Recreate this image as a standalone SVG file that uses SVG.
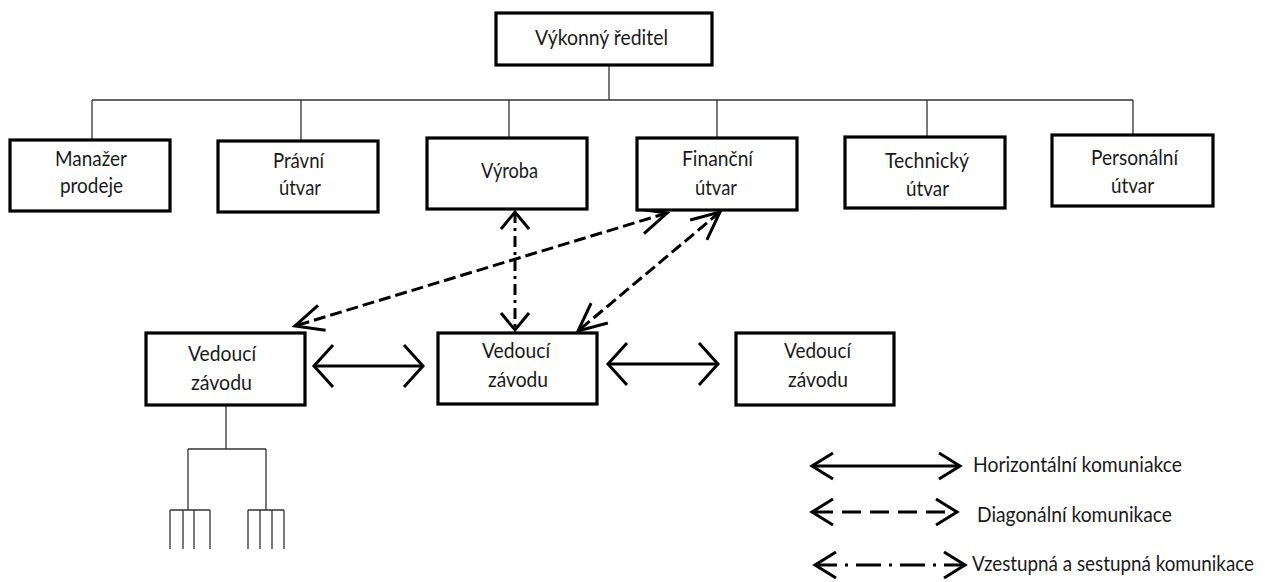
<svg xmlns="http://www.w3.org/2000/svg" width="1265" height="582" viewBox="0 0 1265 582">
<style>
.box{fill:#fff;stroke:#000;stroke-width:3.2}
.t{font-family:Lato,'Liberation Sans',sans-serif;font-size:21px;fill:#1a1a1a}
.org{stroke:#333;stroke-width:1.3;fill:none}
.solid{stroke:#000;stroke-width:3;fill:none}
.dash{stroke:#000;stroke-width:3;fill:none;stroke-dasharray:12 5}
.dashdot{stroke:#000;stroke-width:3;fill:none;stroke-dasharray:11 5 3 5}
.lgdash{stroke:#000;stroke-width:3;fill:none;stroke-dasharray:19 9;stroke-dashoffset:-2}
.lgdashdot{stroke:#000;stroke-width:3;fill:none;stroke-dasharray:25 8 3 8;stroke-dashoffset:3}
.head{fill:none;stroke:#000;stroke-width:3}
</style>
<defs>
<marker id="mh" viewBox="-30 -30 40 60" markerWidth="40" markerHeight="60" refX="0" refY="0" markerUnits="userSpaceOnUse" orient="auto-start-reverse" overflow="visible"><path class="head" d="M-19,-21 L0,0 L-19,21"/></marker>
<marker id="md" viewBox="-35 -20 40 40" markerWidth="40" markerHeight="40" refX="0" refY="0" markerUnits="userSpaceOnUse" orient="auto-start-reverse" overflow="visible"><path class="head" d="M-28,-13 L0,0 L-28,13"/></marker>
<marker id="mv" viewBox="-25 -20 30 40" markerWidth="30" markerHeight="40" refX="0" refY="0" markerUnits="userSpaceOnUse" orient="auto-start-reverse" overflow="visible"><path class="head" d="M-17,-14 L0,0 L-17,14"/></marker>
<marker id="ml" viewBox="-25 -20 30 40" markerWidth="30" markerHeight="40" refX="0" refY="0" markerUnits="userSpaceOnUse" orient="auto-start-reverse" overflow="visible"><path class="head" d="M-21,-13 L0,0 L-21,13"/></marker>
</defs>
<rect width="1265" height="582" fill="#fff"/>

<g id="connectors">
<path class="org" d="M609,65 V100 M92,100 H1133 M92,100 V140 M301,100 V141 M509,100 V138 M717,100 V138 M927,100 V137 M1133,100 V135"/>
<path class="org" d="M226,406 V449 M188,449 H266 M188,449 V510 M266,449 V510 M170,510 H210 M248,510 H284 M170,510 V549 M183,510 V549 M194,510 V549 M210,510 V549 M248,510 V549 M260,510 V549 M272,510 V549 M284,510 V549"/>
<path class="solid" d="M314,366 H423" marker-start="url(#mh)" marker-end="url(#mh)"/>
<path class="solid" d="M608,364 H718" marker-start="url(#mh)" marker-end="url(#mh)"/>
<path class="dashdot" d="M515,212 V330" marker-start="url(#mv)" marker-end="url(#mv)"/>
<path class="dash" d="M667,213 L295,326" marker-start="url(#md)" marker-end="url(#md)"/>
<path class="dash" d="M720,212 L578,331" marker-start="url(#md)" marker-end="url(#md)"/>
</g>

<g id="n-reditel"><rect class="box" x="496" y="13" width="216" height="52"/><text class="t" x="535" y="45" textLength="133" lengthAdjust="spacingAndGlyphs">Výkonný ředitel</text></g>
<g id="n-manazer"><rect class="box" x="10" y="140" width="160" height="71"/><text class="t" x="55" y="166" textLength="72" lengthAdjust="spacingAndGlyphs">Manažer</text><text class="t" x="60" y="193" textLength="63" lengthAdjust="spacingAndGlyphs">prodeje</text></g>
<g id="n-pravni"><rect class="box" x="218" y="141" width="160" height="71"/><text class="t" x="273" y="168" textLength="51" lengthAdjust="spacingAndGlyphs">Právní</text><text class="t" x="279" y="195" textLength="42" lengthAdjust="spacingAndGlyphs">útvar</text></g>
<g id="n-vyroba"><rect class="box" x="427" y="138" width="160" height="71"/><text class="t" x="481" y="178" textLength="57" lengthAdjust="spacingAndGlyphs">Výroba</text></g>
<g id="n-financni"><rect class="box" x="637" y="138" width="160" height="72"/><text class="t" x="682" y="166" textLength="71" lengthAdjust="spacingAndGlyphs">Finanční</text><text class="t" x="695" y="195" textLength="42" lengthAdjust="spacingAndGlyphs">útvar</text></g>
<g id="n-technicky"><rect class="box" x="845" y="137" width="160" height="71"/><text class="t" x="885" y="168" textLength="84" lengthAdjust="spacingAndGlyphs">Technický</text><text class="t" x="906" y="196" textLength="43" lengthAdjust="spacingAndGlyphs">útvar</text></g>
<g id="n-personalni"><rect class="box" x="1052" y="135" width="161" height="71"/><text class="t" x="1091" y="165" textLength="87" lengthAdjust="spacingAndGlyphs">Personální</text><text class="t" x="1111" y="193" textLength="43" lengthAdjust="spacingAndGlyphs">útvar</text></g>

<g id="n-vedouci1"><rect class="box" x="146" y="333" width="159" height="72"/><text class="t" x="188" y="361" textLength="68" lengthAdjust="spacingAndGlyphs">Vedoucí</text><text class="t" x="191" y="390" textLength="61" lengthAdjust="spacingAndGlyphs">závodu</text></g>
<g id="n-vedouci2"><rect class="box" x="438" y="333" width="159" height="71"/><text class="t" x="482" y="358" textLength="68" lengthAdjust="spacingAndGlyphs">Vedoucí</text><text class="t" x="488" y="387" textLength="60" lengthAdjust="spacingAndGlyphs">závodu</text></g>
<g id="n-vedouci3"><rect class="box" x="736" y="333" width="158" height="72"/><text class="t" x="784" y="358" textLength="67" lengthAdjust="spacingAndGlyphs">Vedoucí</text><text class="t" x="788" y="387" textLength="60" lengthAdjust="spacingAndGlyphs">závodu</text></g>

<g id="legend">
<path class="solid" d="M812,466 H960" marker-start="url(#ml)" marker-end="url(#ml)"/>
<text class="t" x="973" y="472" textLength="209" lengthAdjust="spacingAndGlyphs">Horizontální komuniakce</text>
<path class="lgdash" d="M812,512 H957" marker-start="url(#ml)" marker-end="url(#ml)"/>
<text class="t" x="977" y="522" textLength="195" lengthAdjust="spacingAndGlyphs">Diagonální komunikace</text>
<path class="lgdashdot" d="M815,565 H965" marker-start="url(#ml)" marker-end="url(#ml)"/>
<text class="t" x="972" y="571" font-size="18.5" textLength="282" lengthAdjust="spacingAndGlyphs">Vzestupná a sestupná komunikace</text>
</g>
</svg>
